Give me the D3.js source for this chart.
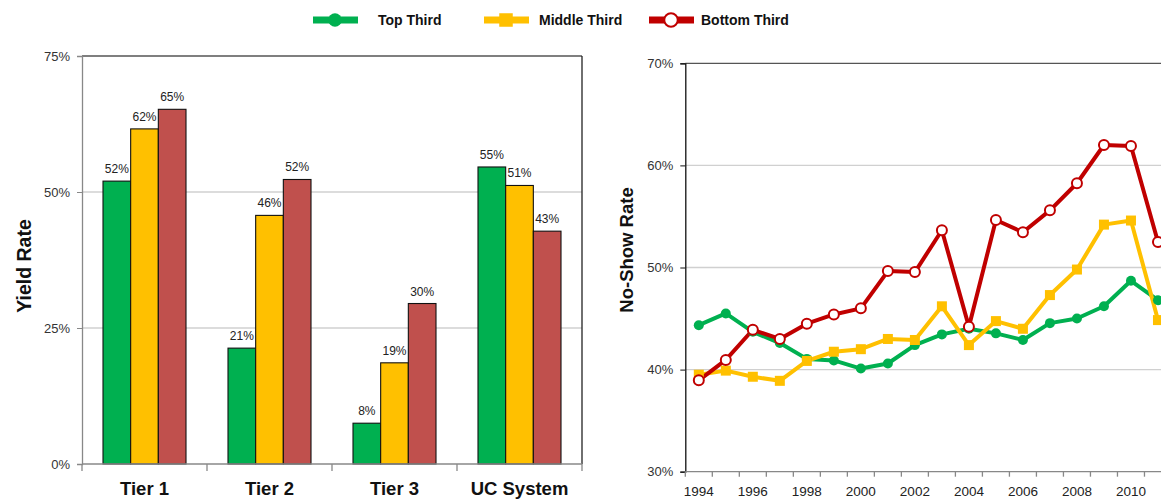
<!DOCTYPE html>
<html><head><meta charset="utf-8">
<script src="https://cdn.jsdelivr.net/npm/d3@7"></script>
<style>
html,body{margin:0;padding:0;background:#fff;overflow:hidden}
text{font-family:"Liberation Sans",Arial,sans-serif}
</style></head>
<body><svg id="c" width="1161" height="499"></svg>
<script>
// ---- data ----
const series = ["Top Third", "Middle Third", "Bottom Third"];
const tiers = ["Tier 1", "Tier 2", "Tier 3", "UC System"];
const yieldTop = [52.0, 21.3, 7.5, 54.6];
const yieldMiddle = [61.6, 45.7, 18.6, 51.2];
const yieldBottom = [65.2, 52.3, 29.5, 42.8];
const yieldTicks = [0, 25, 50, 75];
const years = [1994,1995,1996,1997,1998,1999,2000,2001,2002,2003,2004,2005,2006,2007,2008,2009,2010,2011];
const axisYears = [1994,1995,1996,1997,1998,1999,2000,2001,2002,2003,2004,2005,2006,2007,2008,2009,2010,2011,2012];
const yearLabels = [1994,1996,1998,2000,2002,2004,2006,2008,2010];
const noShowTop = [44.35,45.5,43.7,42.6,41.05,40.9,40.1,40.6,42.4,43.45,44.0,43.55,42.9,44.55,45.0,46.2,48.7,46.8];
const noShowMiddle = [39.5,39.9,39.3,38.9,40.85,41.75,42.0,43.0,42.9,46.2,42.4,44.75,44.0,47.3,49.8,54.2,54.6,44.85];
const noShowBottom = [38.95,40.95,43.9,43.0,44.5,45.4,46.0,49.65,49.55,53.65,44.2,54.65,53.45,55.6,58.25,62.0,61.9,52.5];
const noShowTicks = [30, 40, 50, 60, 70];

const barColors = ["#00B050", "#FFC000", "#C0504D"];
const lineColors = ["#00B050", "#FFC000", "#C00000"];

const svg = d3.select("#c");

// ---- left: bar chart ----
const L = {x0: 82, x1: 582, y0: 56, y1: 464};
const yB = d3.scaleLinear().domain([0, 75]).range([L.y1, L.y0]);
const xB = d3.scaleBand().domain(tiers).range([L.x0, L.x1]);
const xS = d3.scaleBand().domain(series).range([21, xB.bandwidth() - 21]);

const gL = svg.append("g");
gL.selectAll(".grid").data([25, 50]).join("line")
  .attr("x1", L.x0).attr("x2", L.x1).attr("y1", d => yB(d)).attr("y2", d => yB(d))
  .attr("stroke", "#d0d0d0").attr("stroke-width", 1.3);
gL.append("line").attr("x1", L.x0).attr("x2", L.x1).attr("y1", yB(75)).attr("y2", yB(75)).attr("stroke", "#555").attr("stroke-width", 1.3);
gL.append("line").attr("x1", L.x1).attr("x2", L.x1).attr("y1", yB(75)).attr("y2", yB(0)).attr("stroke", "#222").attr("stroke-width", 1.3);

const barData = [yieldTop, yieldMiddle, yieldBottom];
tiers.forEach((t, i) => {
  series.forEach((s, j) => {
    const v = barData[j][i];
    gL.append("rect")
      .attr("x", xB(t) + xS(s)).attr("width", xS.bandwidth())
      .attr("y", yB(v)).attr("height", yB(0) - yB(v))
      .attr("fill", barColors[j]).attr("stroke", "#111").attr("stroke-width", 1.1);
    gL.append("text")
      .attr("x", xB(t) + xS(s) + xS.bandwidth() / 2).attr("y", yB(v) - 8)
      .attr("text-anchor", "middle").attr("font-size", 12).attr("fill", "#222")
      .text(Math.round(v) + "%");
  });
});

const axL = d3.axisLeft(yB).tickValues(yieldTicks).tickFormat(d => d + "%").tickSize(5).tickPadding(7);
const gAxL = gL.append("g").attr("transform", `translate(${L.x0},0)`).call(axL);
gAxL.select(".domain").attr("stroke", "#888").attr("stroke-width", 1.3);
gAxL.selectAll(".tick line").attr("stroke", "#888");
gAxL.selectAll("text").attr("font-size", 13).attr("fill", "#333").attr("font-family", "Liberation Sans, Arial, sans-serif");

const gAxB = gL.append("g");
gAxB.append("line").attr("x1", L.x0).attr("x2", L.x1).attr("y1", L.y1).attr("y2", L.y1).attr("stroke", "#888").attr("stroke-width", 1.3);
gAxB.selectAll(".tk").data(tiers.map(t => xB(t)).concat([L.x1])).join("line")
  .attr("x1", d => d).attr("x2", d => d).attr("y1", L.y1).attr("y2", L.y1 + 7)
  .attr("stroke", "#888").attr("stroke-width", 1.3);
gAxB.selectAll(".lbl").data(tiers).join("text")
  .attr("x", d => xB(d) + xB.bandwidth() / 2).attr("y", 495)
  .attr("text-anchor", "middle").attr("font-size", 18.5).attr("font-weight", "bold").attr("fill", "#111")
  .text(d => d);

svg.append("text").attr("transform", "translate(31,266) rotate(-90)")
  .attr("text-anchor", "middle").attr("font-size", 19.5).attr("font-weight", "bold").attr("fill", "#111")
  .text("Yield Rate");

// ---- right: line chart ----
const R = {x0: 685.3, y0: 63.3, y1: 471.7};
const step = 27.01;
const xL = d3.scaleBand().domain(axisYears).range([R.x0, R.x0 + step * axisYears.length]);
const yL = d3.scaleLinear().domain([30, 70]).range([R.y1, R.y0]);
const gR = svg.append("g");
gR.selectAll(".grid").data([40, 50, 60]).join("line")
  .attr("x1", R.x0).attr("x2", 1161).attr("y1", d => yL(d)).attr("y2", d => yL(d))
  .attr("stroke", "#d0d0d0").attr("stroke-width", 1.3);
gR.append("line").attr("x1", R.x0).attr("x2", 1161).attr("y1", yL(70)).attr("y2", yL(70)).attr("stroke", "#555").attr("stroke-width", 1.3);

const axR = d3.axisLeft(yL).tickValues(noShowTicks).tickFormat(d => d + "%").tickSize(5).tickPadding(7);
const gAxR = gR.append("g").attr("transform", `translate(${R.x0},0)`).call(axR);
gAxR.select(".domain").attr("stroke", "#111").attr("stroke-width", 1.3);
gAxR.selectAll(".tick line").attr("stroke", "#111");
gAxR.selectAll("text").attr("font-size", 13).attr("fill", "#333").attr("font-family", "Liberation Sans, Arial, sans-serif");

const gXR = gR.append("g");
gXR.append("line").attr("x1", R.x0).attr("x2", 1161).attr("y1", R.y1).attr("y2", R.y1).attr("stroke", "#888").attr("stroke-width", 1.3);
gXR.selectAll(".tk").data(axisYears).join("line")
  .attr("x1", d => xL(d)).attr("x2", d => xL(d)).attr("y1", R.y1).attr("y2", R.y1 + 5)
  .attr("stroke", "#888").attr("stroke-width", 1.3);
gXR.selectAll(".lbl").data(yearLabels).join("text")
  .attr("x", d => xL(d) + xL.bandwidth() / 2).attr("y", 496)
  .attr("text-anchor", "middle").attr("font-size", 13.5).attr("fill", "#222")
  .text(d => d);

svg.append("text").attr("transform", "translate(633,250) rotate(-90)")
  .attr("text-anchor", "middle").attr("font-size", 18.5).attr("font-weight", "bold").attr("fill", "#111")
  .text("No-Show Rate");

const px = d => xL(d) + xL.bandwidth() / 2;
const lineData = [noShowTop, noShowMiddle, noShowBottom];
const line = d3.line().x((d, i) => px(years[i])).y(d => yL(d));
lineData.forEach((arr, j) => {
  gR.append("path").datum(arr).attr("d", line).attr("fill", "none")
    .attr("stroke", lineColors[j]).attr("stroke-width", 4).attr("stroke-linejoin", "round");
});
function drawMarker(g, j, x, y, big) {
  const s = big ? 1.35 : 1;
  if (j === 0) {
    g.append("circle").attr("cx", x).attr("cy", y).attr("r", 5 * s).attr("fill", lineColors[0]);
  } else if (j === 1) {
    const w = 10 * s;
    g.append("rect").attr("x", x - w / 2).attr("y", y - w / 2).attr("width", w).attr("height", w).attr("fill", lineColors[1]);
  } else {
    g.append("circle").attr("cx", x).attr("cy", y).attr("r", 5 * s).attr("fill", "#fff")
      .attr("stroke", lineColors[2]).attr("stroke-width", 2);
  }
}
lineData.forEach((arr, j) => {
  arr.forEach((v, i) => drawMarker(gR, j, px(years[i]), yL(v), false));
});

// ---- legend ----
const legX = [313, 484, 649];
const legTextX = [378, 539, 701];
const gLeg = svg.append("g");
series.forEach((s, j) => {
  gLeg.append("line").attr("x1", legX[j]).attr("x2", legX[j] + 45).attr("y1", 20).attr("y2", 20)
    .attr("stroke", lineColors[j]).attr("stroke-width", 7);
  drawMarker(gLeg, j, legX[j] + 22, 20, true);
  gLeg.append("text").attr("x", legTextX[j]).attr("y", 24.5)
    .attr("font-size", 14).attr("font-weight", "bold").attr("fill", "#111").text(s);
});
</script></body></html>
